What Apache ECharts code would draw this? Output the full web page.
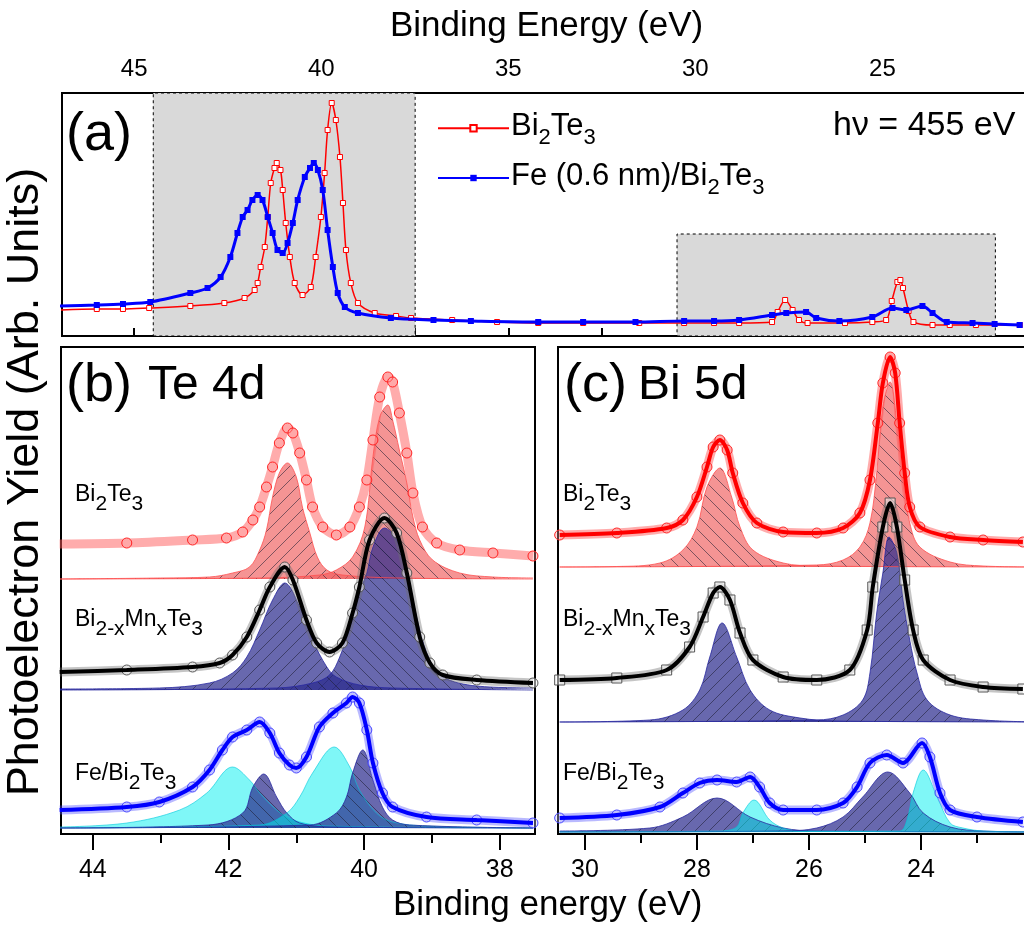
<!DOCTYPE html>
<html>
<head>
<meta charset="utf-8">
<script src="https://cdn.jsdelivr.net/npm/echarts@6/dist/echarts.min.js"></script>
<style>
  html, body { margin: 0; padding: 0; background: #fff; overflow: hidden; width: 1024px; height: 926px; }
  #main { width: 1060px; height: 926px; }
</style>
</head>
<body>
<div id="main"></div>
<script>
// panel (a): wide scan, [binding energy eV, yield arb.]
const aBi2Te3 = [[47.0,26],[46.0,27],[45.3,27],[44.6,28],[43.5,30],[42.59,33],[42.05,38],[41.78,46],[41.70,53],[41.62,69],[41.51,89],[41.43,119],[41.35,153],[41.25,168],[41.19,173],[41.09,166],[41.03,146],[40.95,113],[40.84,79],[40.71,53],[40.50,41],[40.28,49],[40.15,79],[40.01,119],[39.91,163],[39.83,206],[39.72,233],[39.61,216],[39.50,179],[39.42,133],[39.34,86],[39.21,53],[39.02,33],[38.57,23],[38.0,20],[37.6,18],[36.5,16],[35.3,14],[34.2,13],[33.0,13],[31.5,13],[30.3,13],[29.5,13],[28.83,13],[27.95,14],[27.8,24],[27.6,36],[27.4,26],[27.23,16],[27.0,13],[26.0,13],[25.27,14],[24.9,16],[24.75,35],[24.6,54],[24.52,56],[24.45,48],[24.3,25],[24.17,14],[23.66,11],[23.2,11],[22.5,11],[21.33,11]];
const aFeBi2Te3 = [[47.0,30],[46.0,31],[45.3,32],[44.57,34],[43.50,43],[43.04,48],[42.69,59],[42.43,79],[42.24,103],[42.10,119],[41.97,126],[41.84,136],[41.70,141],[41.57,136],[41.43,119],[41.30,103],[41.17,86],[41.03,83],[40.90,93],[40.76,113],[40.63,136],[40.44,159],[40.30,168],[40.20,173],[40.09,166],[39.96,146],[39.83,106],[39.69,69],[39.56,43],[39.37,29],[39.02,23],[38.14,18],[37.0,16],[36.0,15],[34.2,14],[33.0,14],[31.6,14],[30.3,15],[29.5,15],[28.83,16],[27.95,21],[27.57,23],[27.04,24],[26.77,18],[26.15,15],[25.27,19],[24.73,28],[24.36,26],[23.93,30],[23.66,23],[23.28,14],[22.59,13],[22.0,12],[21.33,11]];
const teBox = [44.49, 37.49];
const biBox = [30.49, 21.98, 102];

// panel (b): Te 4d
const bRedData = [[44.49,35],[43.50,36],[42.53,39],[42.03,41],[41.79,47],[41.64,59],[41.54,72],[41.44,92],[41.35,112],[41.25,136],[41.13,151],[41.05,146],[40.95,126],[40.85,99],[40.76,72],[40.61,52],[40.41,44],[40.21,52],[40.07,72],[39.96,99],[39.87,139],[39.77,182],[39.65,202],[39.58,197],[39.48,166],[39.37,126],[39.28,86],[39.14,52],[38.93,36],[38.59,29],[38.10,26],[37.51,23]];
const bRedC1 = [[44.49,0],[43.0,1],[42.28,2],[41.94,6],[41.69,12],[41.54,29],[41.44,49],[41.35,82],[41.25,106],[41.13,116],[41.00,102],[40.91,72],[40.80,46],[40.69,22],[40.55,9],[40.32,4],[39.5,1],[37.51,0]];
const bRedC2 = [[44.49,0],[41.5,1],[40.66,4],[40.41,9],[40.17,22],[39.99,52],[39.87,122],[39.77,162],[39.65,174],[39.58,159],[39.48,129],[39.37,96],[39.28,62],[39.18,39],[38.99,19],[38.59,6],[38.10,2],[37.51,1]];
const bMnData = [[44.49,18],[43.50,20],[42.53,23],[42.13,27],[41.94,35],[41.73,53],[41.54,80],[41.39,103],[41.17,123],[41.05,110],[40.85,70],[40.70,47],[40.51,38],[40.32,47],[40.17,77],[40.07,103],[39.92,150],[39.70,172],[39.52,157],[39.37,117],[39.18,53],[39.03,27],[38.84,15],[38.34,10],[37.51,7]];
const bMnC1 = [[44.49,1],[43.02,2],[42.28,7],[41.94,17],[41.73,33],[41.54,60],[41.35,90],[41.17,107],[40.95,83],[40.76,50],[40.55,23],[40.41,13],[40.07,5],[39.58,2],[37.51,0]];
const bMnC2 = [[44.49,0],[41.29,2],[40.76,7],[40.51,15],[40.36,33],[40.21,63],[40.07,97],[39.96,117],[39.87,143],[39.70,162],[39.52,150],[39.37,117],[39.18,60],[39.03,30],[38.84,13],[38.34,4],[37.51,2]];
const bFeData = [[44.49,18],[43.50,21],[43.02,26],[42.53,41],[42.28,58],[42.09,78],[41.94,91],[41.73,98],[41.54,106],[41.39,95],[41.25,75],[41.10,63],[41.00,60],[40.85,71],[40.66,101],[40.46,115],[40.26,125],[40.17,131],[40.07,125],[39.96,98],[39.87,65],[39.73,35],[39.58,21],[39.08,11],[38.34,8],[37.51,5]];
const bFeCy1 = [[44.49,1],[43.50,5],[42.72,18],[42.32,35],[41.94,61],[41.69,48],[41.54,35],[41.29,18],[41.05,8],[40.55,2],[37.51,0]];
const bFeNv1 = [[44.49,0],[42.3,3],[41.79,15],[41.64,41],[41.48,54],[41.29,31],[41.14,15],[40.95,5],[40.5,1],[37.51,0]];
const bFeCy2 = [[44.49,0],[41.54,3],[41.14,15],[40.95,31],[40.76,55],[40.44,81],[40.21,61],[40.07,38],[39.82,15],[39.58,6],[39.08,2],[37.51,0]];
const bFeNv2 = [[44.49,0],[40.8,3],[40.41,15],[40.26,31],[40.17,55],[40.02,78],[39.87,48],[39.73,21],[39.58,8],[39.33,3],[37.51,0]];

// panel (c): Bi 5d
const cRedData = [[30.45,32],[29.43,34],[28.54,39],[28.25,47],[28.00,70],[27.82,100],[27.71,120],[27.59,127],[27.46,117],[27.36,94],[27.18,64],[26.93,44],[26.46,35],[25.86,34],[25.39,39],[25.09,54],[24.91,87],[24.77,144],[24.68,184],[24.55,210],[24.46,194],[24.38,144],[24.29,94],[24.20,60],[24.02,40],[23.48,30],[22.89,27],[22.18,25]];
const cRedC1 = [[30.45,0],[29.43,0.5],[28.66,4],[28.25,17],[28.00,40],[27.82,80],[27.59,99],[27.38,70],[27.23,40],[27.00,17],[26.46,4],[25.86,1],[21.91,0]];
const cRedC2 = [[30.45,0],[25.86,2],[25.39,7],[25.09,20],[24.91,44],[24.79,94],[24.68,160],[24.55,185],[24.43,144],[24.32,87],[24.20,44],[24.02,20],[23.48,5],[22.89,1],[21.91,0]];
const cMnData = [[30.45,42],[29.43,44],[28.54,52],[28.13,75],[27.89,105],[27.71,129],[27.59,135],[27.41,122],[27.23,89],[27.00,62],[26.46,45],[25.86,42],[25.27,52],[24.96,92],[24.86,135],[24.68,195],[24.55,219],[24.43,195],[24.29,142],[24.14,92],[23.96,62],[23.48,42],[22.89,35],[22.18,33]];
const cMnC1 = [[30.45,0],[28.84,2],[28.25,12],[27.95,32],[27.77,65],[27.55,99],[27.29,65],[27.05,32],[26.70,12],[26.16,4],[25.5,1],[21.91,0]];
const cMnC2 = [[30.45,0],[25.86,2],[25.39,7],[25.04,22],[24.91,49],[24.79,109],[24.68,149],[24.57,185],[24.43,169],[24.32,122],[24.20,82],[24.07,49],[23.89,22],[23.48,7],[22.89,2],[21.91,0]];
const cFeData = [[30.45,14],[29.43,17],[28.66,25],[28.25,39],[27.95,49],[27.64,52],[27.29,50],[27.05,55],[26.88,45],[26.70,29],[26.46,22],[25.86,22],[25.39,29],[25.14,45],[24.91,69],[24.61,77],[24.32,69],[23.98,89],[23.84,75],[23.66,39],[23.48,22],[23.00,15],[22.18,10]];
const cFeNv1 = [[30.45,1],[28.84,4],[28.25,15],[27.64,34],[27.05,15],[26.46,4],[25.86,1],[21.91,0]];
const cFeCy1 = [[30.45,0],[27.6,1],[27.29,5],[27.18,19],[26.98,32],[26.70,12],[26.46,4],[26.16,1],[21.91,0]];
const cFeNv2 = [[30.45,0],[26.46,1],[25.86,4],[25.39,15],[25.04,35],[24.59,60],[24.20,39],[23.96,19],[23.48,5],[22.89,1],[21.91,0]];
const cFeCy2 = [[30.45,0],[24.38,1],[24.25,12],[24.14,39],[23.96,62],[23.71,35],[23.48,9],[23.25,4],[22.89,1],[21.91,0]];

// ticks
const topTicks = [22.5, 25, 27.5, 30, 32.5, 35, 37.5, 40, 42.5, 45];
const topLabels = [25, 30, 35, 40, 45];
const bTicks = [38, 40, 42, 44];
const bMinor = [39, 41, 43];
const cTicks = [24, 26, 28, 30];
const cMinor = [23, 25, 27, 29];

// vertical offsets of the stacked spectra
const offB = { red: 255, mn: 144, fe: 6 };
const offC = { red: 267, mn: 112, fe: 2 };

// sample names, [text, isSubscript]
const nameBT = [['Bi'], ['2', 1], ['Te'], ['3', 1]];
const nameMN = [['Bi'], ['2-x', 1], ['Mn'], ['x', 1], ['Te'], ['3', 1]];
const nameFE = [['Fe/Bi'], ['2', 1], ['Te'], ['3', 1]];
const nameFE06 = [['Fe (0.6 nm)/Bi'], ['2', 1], ['Te'], ['3', 1]];

const F = '"Liberation Sans", Arial, sans-serif';

function hatch(fill, dir) {
  const s = 14;
  const c = document.createElement('canvas');
  c.width = s; c.height = s;
  const g = c.getContext('2d');
  g.fillStyle = fill;
  g.fillRect(0, 0, s, s);
  g.strokeStyle = 'rgba(30,30,50,0.55)';
  g.lineWidth = 1;
  g.beginPath();
  if (dir > 0) { g.moveTo(-1, s + 1); g.lineTo(s + 1, -1); }
  else { g.moveTo(-1, -1); g.lineTo(s + 1, s + 1); }
  g.stroke();
  return { image: c, repeat: 'repeat' };
}

const PINK = 'rgba(240,90,90,0.65)';
const NAVY = 'rgba(40,40,140,0.7)';
const CYAN = 'rgba(0,240,240,0.5)';

function comp(xi, yi, pts, off, fill, edge) {
  return {
    type: 'line', xAxisIndex: xi, yAxisIndex: yi, silent: true, z: 2,
    data: pts.map(p => [p[0], p[1] + off]),
    smooth: 0.35, showSymbol: false,
    lineStyle: { width: 1, color: edge },
    areaStyle: { origin: off, color: fill, opacity: 1 }
  };
}
function meas(xi, yi, pts, off, sym, edge, fill, band) {
  return {
    type: 'line', xAxisIndex: xi, yAxisIndex: yi, silent: true, z: 3,
    data: pts.map(p => [p[0], p[1] + off]),
    smooth: 0.3, symbol: sym, symbolSize: 10, showAllSymbol: true,
    itemStyle: { color: fill, borderColor: edge, borderWidth: 1 },
    lineStyle: { width: 9, color: band }
  };
}
function fit(xi, yi, pts, off, color) {
  return {
    type: 'line', xAxisIndex: xi, yAxisIndex: yi, silent: true, z: 4,
    data: pts.map(p => [p[0], p[1] + off]),
    smooth: 0.3, showSymbol: false,
    lineStyle: { width: 4, color: color }
  };
}

function label(x, y, text, size) {
  return { type: 'text', x: x, y: y, silent: true,
    style: { text: text, font: size + 'px ' + F, fill: '#000', verticalAlign: 'middle' } };
}

// text with subscripts: pieces laid out left to right, subscripts dropped below the baseline
const measure = document.createElement('canvas').getContext('2d');
function subLabel(x, baseline, parts, mSize, sSize, drop) {
  const els = [];
  let cx = x;
  parts.forEach(p => {
    const size = p[1] ? sSize : mSize;
    const font = size + 'px ' + F;
    const base = p[1] ? baseline + drop : baseline;
    els.push({ type: 'text', x: cx, y: base - 0.35 * size, silent: true,
      style: { text: p[0], font: font, fill: '#000', verticalAlign: 'middle' } });
    measure.font = font;
    cx += measure.measureText(p[0]).width;
  });
  return els;
}

const gridStyle = { show: true, borderColor: '#000', borderWidth: 2, backgroundColor: 'transparent' };
const tickLine = { color: '#000', width: 2 };

function bottomAxis(grid, min, max, ticks, len, labels) {
  return {
    gridIndex: grid, type: 'value', inverse: true, min: min, max: max, position: 'bottom',
    axisLine: { show: labels, lineStyle: tickLine },
    axisTick: { show: true, customValues: ticks, length: len, lineStyle: tickLine },
    axisLabel: labels ? { customValues: ticks, fontSize: 25, fontFamily: F, color: '#000', margin: 24 } : { show: false },
    splitLine: { show: false }
  };
}

const legendBase = {
  orient: 'horizontal', left: 432, itemWidth: 71, itemHeight: 8,
  formatter: () => '', textStyle: { fontSize: 8 }, selectedMode: false
};

const chart = echarts.init(document.getElementById('main'));
chart.setOption({
  animation: false,
  backgroundColor: '#fff',
  grid: [
    Object.assign({ left: 62, top: 93, width: 985, height: 243 }, gridStyle),
    Object.assign({ left: 61, top: 347, width: 474, height: 487 }, gridStyle),
    Object.assign({ left: 558, top: 347, width: 480, height: 487 }, gridStyle)
  ],
  xAxis: [
    {
      gridIndex: 0, type: 'value', position: 'top', inverse: true, min: 20.6, max: 46.93,
      axisLine: { show: true, lineStyle: tickLine },
      axisTick: { show: true, customValues: topTicks, length: 8, lineStyle: tickLine },
      axisLabel: { customValues: topLabels, fontSize: 24, fontFamily: F, color: '#000', margin: 12 },
      splitLine: { show: false }
    },
    bottomAxis(1, 37.48, 44.47, bTicks, 16, true),
    bottomAxis(1, 37.48, 44.47, bMinor, 9, false),
    bottomAxis(2, 21.91, 30.48, cTicks, 16, true),
    bottomAxis(2, 21.91, 30.48, cMinor, 9, false)
  ],
  yAxis: [
    { gridIndex: 0, type: 'value', min: 0, max: 243, show: false },
    { gridIndex: 1, type: 'value', min: 0, max: 487, show: false },
    { gridIndex: 2, type: 'value', min: 0, max: 487, show: false }
  ],
  legend: [
    Object.assign({ data: ['a1'], top: 119 }, legendBase),
    Object.assign({ data: ['a2'], top: 169 }, legendBase)
  ],
  graphic: [
    label(390, 26, 'Binding Energy (eV)', 35),
    label(393, 905, 'Binding energy (eV)', 35),
    { type: 'text', x: 26, y: 482, rotation: Math.PI / 2, silent: true,
      style: { text: 'Photoelectron Yield (Arb. Units)', font: '45px ' + F, fill: '#000', align: 'center', verticalAlign: 'middle' } },
    label(66, 135, '(a)', 54),
    label(177, 128, 'Te 4d', 43),
    label(687, 267, 'Bi 5d', 44),
    label(833, 126, 'h\u03bd = 455 eV', 34),
    label(66, 386, '(b)', 54),
    label(148, 386, 'Te 4d', 48),
    label(564, 386, '(c)', 54),
    label(638, 386, 'Bi 5d', 48)
  ].concat(
    subLabel(511, 137, nameBT, 31, 22, 9),
    subLabel(511, 187, nameFE06, 31, 22, 9),
    subLabel(75, 503, nameBT, 23, 21, 9),
    subLabel(75, 628, nameMN, 23, 21, 9),
    subLabel(75, 782, nameFE, 23, 21, 9),
    subLabel(563, 503, nameBT, 23, 21, 9),
    subLabel(563, 628, nameMN, 23, 21, 9),
    subLabel(563, 782, nameFE, 23, 21, 9)
  ),
  series: [
    {
      type: 'line', xAxisIndex: 0, yAxisIndex: 0, data: [], z: 1, silent: true,
      markArea: {
        silent: true,
        itemStyle: { color: '#d9d9d9', opacity: 1, borderColor: '#000', borderWidth: 1, borderType: [3, 3] },
        data: [
          [{ coord: [teBox[0], 0] }, { coord: [teBox[1], 243] }],
          [{ coord: [biBox[0], 0] }, { coord: [biBox[1], biBox[2]] }]
        ]
      }
    },
    {
      name: 'a1', type: 'line', xAxisIndex: 0, yAxisIndex: 0, data: aBi2Te3, z: 3,
      smooth: 0.3, symbol: 'rect', symbolSize: 5, showAllSymbol: true,
      itemStyle: { color: '#fff', borderColor: '#f00', borderWidth: 1 },
      lineStyle: { width: 1.5, color: '#f00' }
    },
    {
      name: 'a2', type: 'line', xAxisIndex: 0, yAxisIndex: 0, data: aFeBi2Te3, z: 4,
      smooth: 0.3, symbol: 'rect', symbolSize: 6, showAllSymbol: true,
      itemStyle: { color: '#00f' },
      lineStyle: { width: 3, color: '#00f' }
    },

    comp(1, 1, bRedC1, offB.red, hatch(PINK, 1), 'rgba(255,80,80,0.8)'),
    comp(1, 1, bRedC2, offB.red, hatch(PINK, -1), 'rgba(255,80,80,0.8)'),
    meas(1, 1, bRedData, offB.red, 'circle', '#f22', 'rgba(255,160,160,0.35)', 'rgba(255,90,90,0.5)'),
    comp(1, 1, bMnC1, offB.mn, hatch(NAVY, 1), 'rgba(40,40,160,0.8)'),
    comp(1, 1, bMnC2, offB.mn, hatch(NAVY, -1), 'rgba(40,40,160,0.8)'),
    meas(1, 1, bMnData, offB.mn, 'circle', '#555', 'rgba(255,255,255,0.5)', 'rgba(110,110,110,0.4)'),
    fit(1, 1, bMnData, offB.mn, '#000'),
    comp(1, 1, bFeCy1, offB.fe, CYAN, 'rgba(0,200,220,0.6)'),
    comp(1, 1, bFeNv1, offB.fe, hatch(NAVY, -1), 'rgba(40,40,160,0.8)'),
    comp(1, 1, bFeCy2, offB.fe, CYAN, 'rgba(0,200,220,0.6)'),
    comp(1, 1, bFeNv2, offB.fe, hatch(NAVY, -1), 'rgba(40,40,160,0.8)'),
    meas(1, 1, bFeData, offB.fe, 'circle', '#44f', 'rgba(210,210,255,0.35)', 'rgba(80,80,255,0.4)'),
    fit(1, 1, bFeData, offB.fe, '#00f'),

    comp(3, 2, cRedC1, offC.red, hatch(PINK, -1), 'rgba(255,80,80,0.8)'),
    comp(3, 2, cRedC2, offC.red, hatch(PINK, -1), 'rgba(255,80,80,0.8)'),
    meas(3, 2, cRedData, offC.red, 'circle', '#f22', 'rgba(255,160,160,0.35)', 'rgba(255,90,90,0.5)'),
    fit(3, 2, cRedData, offC.red, '#f00'),
    comp(3, 2, cMnC1, offC.mn, hatch(NAVY, 1), 'rgba(40,40,160,0.8)'),
    comp(3, 2, cMnC2, offC.mn, hatch(NAVY, 1), 'rgba(40,40,160,0.8)'),
    meas(3, 2, cMnData, offC.mn, 'rect', '#555', 'rgba(255,255,255,0.5)', 'rgba(110,110,110,0.4)'),
    fit(3, 2, cMnData, offC.mn, '#000'),
    comp(3, 2, cFeNv1, offC.fe, hatch(NAVY, 1), 'rgba(40,40,160,0.8)'),
    comp(3, 2, cFeCy1, offC.fe, CYAN, 'rgba(0,200,220,0.6)'),
    comp(3, 2, cFeNv2, offC.fe, hatch(NAVY, 1), 'rgba(40,40,160,0.8)'),
    comp(3, 2, cFeCy2, offC.fe, CYAN, 'rgba(0,200,220,0.6)'),
    meas(3, 2, cFeData, offC.fe, 'circle', '#44f', 'rgba(210,210,255,0.35)', 'rgba(80,80,255,0.4)'),
    fit(3, 2, cFeData, offC.fe, '#00f')
  ]
});
</script>
</body>
</html>
